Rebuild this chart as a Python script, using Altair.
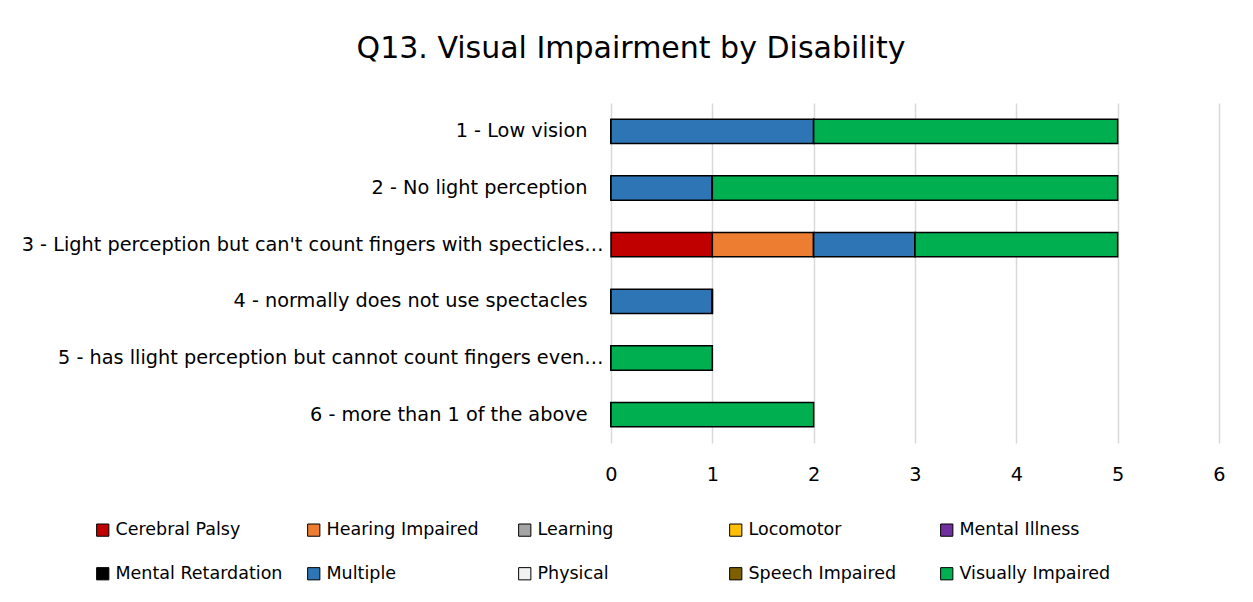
import altair as alt
import pandas as pd

categories = [
    "1 - Low vision",
    "2 - No light perception",
    "3 - Light perception but can't count fingers with specticles…",
    "4 - normally does not use spectacles",
    "5 - has llight perception but cannot count fingers even…",
    "6 - more than 1 of the above",
]
series = [
    "Cerebral Palsy", "Hearing Impaired", "Learning", "Locomotor", "Mental Illness",
    "Mental Retardation", "Multiple", "Physical", "Speech Impaired", "Visually Impaired",
]
colors = [
    "#C00000", "#ED7D31", "#A5A5A5", "#FFC000", "#7030A0",
    "#000000", "#2E75B6", "#F2F2F2", "#7F6000", "#00B050",
]
# values[series] -> per category
values = {
    "Cerebral Palsy":     [0, 0, 1, 0, 0, 0],
    "Hearing Impaired":   [0, 0, 1, 0, 0, 0],
    "Learning":           [0, 0, 0, 0, 0, 0],
    "Locomotor":          [0, 0, 0, 0, 0, 0],
    "Mental Illness":     [0, 0, 0, 0, 0, 0],
    "Mental Retardation": [0, 0, 0, 0, 0, 0],
    "Multiple":           [2, 1, 1, 1, 0, 0],
    "Physical":           [0, 0, 0, 0, 0, 0],
    "Speech Impaired":    [0, 0, 0, 0, 0, 0],
    "Visually Impaired":  [3, 4, 2, 0, 1, 2],
}
x_ticks = [0, 1, 2, 3, 4, 5, 6]

rows = []
for si, s in enumerate(series):
    for ci, c in enumerate(categories):
        rows.append({"category": c, "series": s, "order": si, "value": values[s][ci]})
df = pd.DataFrame(rows)

FONT = "DejaVu Sans"
AX = 19.3
LEG = 17.5

bars = alt.Chart(df).mark_bar(stroke="black", strokeWidth=1.5).encode(
    y=alt.Y("category:N", sort=categories, title=None,
            scale=alt.Scale(paddingInner=0.57, paddingOuter=0.285),
            axis=alt.Axis(ticks=False, domain=False,
                          labelPadding={"condition": {"test": "indexof(datum.label, '…') >= 0", "value": 8},
                                        "value": 24},
                          labelLimit=0,
                          labelFontSize=AX, labelColor="#000000", labelFont=FONT)),
    x=alt.X("value:Q", stack="zero", title=None,
            scale=alt.Scale(domain=[0, 6], nice=False),
            axis=alt.Axis(values=x_ticks, ticks=False, domain=False, labelPadding=22,
                          labelFlush=False,
                          labelFontSize=AX, labelColor="#000000", labelFont=FONT,
                          grid=True, gridColor="#D9D9D9", gridWidth=1.5)),
    color=alt.Color("series:N", sort=series,
                    scale=alt.Scale(domain=series, range=colors),
                    legend=alt.Legend(title=None, orient="none", legendX=-517, legendY=418,
                                      direction="horizontal", columns=5, gridAlign="all",
                                      symbolType="square", symbolSize=150,
                                      symbolStrokeColor="black", symbolStrokeWidth=1,
                                      symbolOpacity=1,
                                      labelFontSize=LEG, labelFont=FONT, labelColor="#000000",
                                      labelOffset=4, columnPadding=22, rowPadding=25,
                                      labelLimit=0, padding=0)),
    order=alt.Order("order:Q"),
)

chart = bars.properties(
    width=608, height=340,
    title=alt.TitleParams("Q13. Visual Impairment by Disability", fontSize=30, font=FONT,
                          fontWeight="normal", color="#000000", anchor="middle",
                          dx=-284, offset=39),
    autosize=alt.AutoSizeParams(type="none"),
    padding={"left": 603, "top": 95, "right": 26, "bottom": 150},
    background="white",
).configure_view(stroke=None)

chart.save("out.html", embed_options={"renderer": "svg", "actions": False})
